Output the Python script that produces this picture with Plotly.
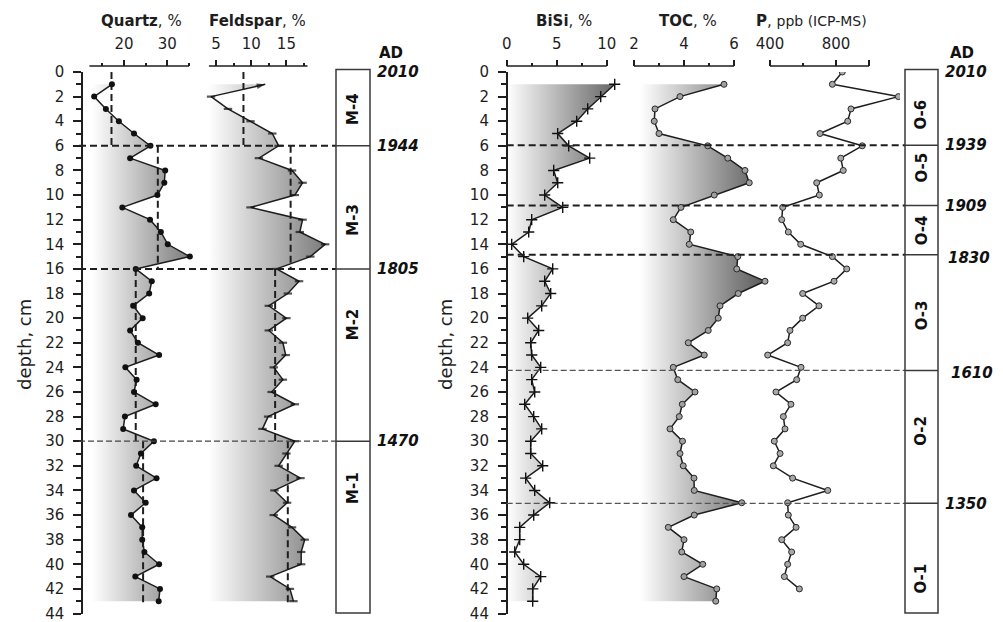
import plotly.graph_objects as go

W, H = 1003, 622
FONT = "DejaVu Sans"
INK = "#1e1e1e"

# ---------------- data ----------------
depth = list(range(1, 44))  # cm, samples of the mineral / BiSi / TOC series
p_depth = list(range(0, 43))

quartz = [17.2, 13.1, 15.8, 18.8, 22.3, 26.1, 21.4, 29.5, 29.3, 27.7,
          19.6, 26.0, 28.5, 30.1, 35.2, 22.7, 26.4, 25.8, 22.1, 24.3,
          21.4, 23.2, 28.1, 20.3, 22.9, 22.3, 27.3, 20.2, 19.8, 26.9,
          23.9, 22.8, 27.5, 22.3, 25.0, 21.6, 24.2, 24.2, 24.7, 28.1,
          22.6, 28.3, 28.0]
feldspar = [12.0, 4.3, 6.7, 9.9, 13.0, 13.9, 11.1, 15.8, 17.3, 16.2,
            9.9, 17.3, 16.9, 20.5, 18.4, 13.6, 16.8, 15.2, 12.5, 15.0,
            12.5, 14.5, 14.9, 13.2, 14.5, 12.9, 16.2, 12.4, 11.6, 16.2,
            15.0, 13.9, 17.0, 13.3, 15.1, 13.2, 15.8, 17.6, 17.1, 17.1,
            12.7, 15.5, 16.0]
bisi = [10.8, 9.4, 8.1, 7.0, 5.1, 6.2, 8.3, 4.7, 5.1, 3.8,
        5.6, 2.5, 2.2, 0.5, 1.7, 4.6, 3.8, 4.4, 3.5, 2.1,
        3.2, 2.4, 2.5, 3.4, 2.5, 2.8, 1.8, 2.7, 3.5, 2.4,
        2.4, 3.6, 1.9, 2.8, 4.3, 2.7, 1.3, 1.3, 0.8, 1.7,
        3.4, 2.6, 2.6]
toc = [5.60, 3.84, 2.84, 2.81, 3.00, 4.95, 5.75, 6.44, 6.61, 5.21,
       3.88, 3.57, 4.27, 4.21, 6.15, 6.11, 7.24, 6.17, 5.44, 5.37,
       4.97, 4.17, 4.81, 3.57, 3.75, 4.44, 3.93, 3.81, 3.44, 3.94,
       3.84, 3.97, 4.40, 4.41, 6.31, 4.41, 3.37, 4.00, 3.91, 4.75,
       4.00, 5.31, 5.27]
phos = [838, 778, 1178, 891, 871, 703, 959, 829, 844, 683,
        699, 477, 471, 511, 586, 778, 865, 788, 598, 697,
        598, 521, 507, 386, 588, 562, 436, 527, 481, 491,
        426, 461, 420, 537, 750, 507, 511, 558, 471, 531,
        507, 487, 578]

# zone means of the mineral series (top, bottom depth of each zone)
mean_spans = [(0, 6), (6, 16), (16, 30), (30, 43.3)]
quartz_means = [17.1, 27.8, 22.7, 24.4]
feldspar_means = [8.9, 15.6, 13.4, 15.2]

# zonation
m_zones = ["M-4", "M-3", "M-2", "M-1"]
m_bounds = [6, 16, 30]
m_label_depth = [3, 12, 20.5, 33.8]
m_dates = ["2010", "1944", "1805", "1470"]
m_date_depth = [0, 6, 16, 30]

o_zones = ["O-6", "O-5", "O-4", "O-3", "O-2", "O-1"]
o_bounds = [5.95, 10.85, 14.85, 24.25, 35.05]
o_label_depth = [3.5, 7.8, 12.9, 19.8, 29.2, 41.2]
o_dates = ["2010", "1939", "1909", "1830", "1610", "1350"]
o_date_depth = [0, 5.95, 10.85, 15.1, 24.45, 35.1]


# ---------------- helpers ----------------
def xp(px):
    return px / W


def yp(py):
    return 1 - py / H


Y_TOP, Y_BOT = 72, 613.5          # pixel rows of depth 0 and 44
AXIS_ROW = 66                     # row of the top value axes


def xrange_for(d0, d1, ref_px, ref_val, px_per_unit):
    return [ref_val + (d0 - ref_px) / px_per_unit,
            ref_val + (d1 - ref_px) / px_per_unit]


fig = go.Figure()

# value axes: domain px, reference (px, value), px per unit, ticks, minor ticks, axis line extent
axes = {
    "x":  dict(dom=(84, 200),  ref=(145.7, 25), k=4.33, ticks=[20, 30], minor=[15, 25, 35], line=(12, 35)),
    "x2": dict(dom=(200, 335), ref=(216, 5),    k=7.04, ticks=[5, 10, 15], minor=[7.5, 12.5, 17.5], line=(4, 18)),
    "x3": dict(dom=(505, 628), ref=(506.7, 0),  k=10.0, ticks=[0, 5, 10], minor=[2.5, 7.5], line=(0, 10)),
    "x4": dict(dom=(628, 775), ref=(634, 2),    k=25.0, ticks=[2, 4, 6], minor=[3, 5], line=(2, 6)),
    "x5": dict(dom=(760, 900), ref=(770, 400),  k=0.165, ticks=[400, 800, 1000], minor=[600], line=(400, 1000),
               text=["400", "800", ""]),
}

layout_axes = {}
shapes = []
for name, a in axes.items():
    key = "xaxis" if name == "x" else "xaxis" + name[1:]
    layout_axes[key] = dict(
        domain=[xp(a["dom"][0]), xp(a["dom"][1])],
        range=xrange_for(a["dom"][0], a["dom"][1], a["ref"][0], a["ref"][1], a["k"]),
        anchor="free", position=yp(AXIS_ROW), side="top",
        automargin=False,
        showline=False, showgrid=False, zeroline=False,
        ticks="outside", ticklen=6, tickwidth=1.5, tickcolor=INK,
        tickmode="array", tickvals=a["ticks"],
        ticktext=a.get("text", [str(v) for v in a["ticks"]]),
        ticklabelstandoff=5, ticklabeloverflow="allow",
        minor=dict(tickmode="array", tickvals=a["minor"], ticks="outside",
                   ticklen=3, tickwidth=1.5, tickcolor=INK, showgrid=False),
        tickfont=dict(family=FONT, size=15, color=INK),
        fixedrange=True,
    )
    shapes.append(dict(type="line", xref=name, yref="paper",
                       x0=a["line"][0], x1=a["line"][1],
                       y0=yp(AXIS_ROW), y1=yp(AXIS_ROW),
                       line=dict(color=INK, width=1.5)))

ydom = [yp(Y_BOT), yp(Y_TOP)]
ycommon = dict(domain=ydom, range=[44, 0], anchor="free", automargin=False,
               showline=True, linecolor=INK, linewidth=1.5,
               showgrid=False, zeroline=False,
               ticks="outside", ticklen=8, tickwidth=1.5, tickcolor=INK,
               tickmode="linear", tick0=0, dtick=2, ticklabelstandoff=6,
               ticklabeloverflow="allow",
               minor=dict(dtick=1, tick0=0, ticks="outside", ticklen=5,
                          tickwidth=1.5, tickcolor=INK, showgrid=False),
               tickfont=dict(family=FONT, size=15, color=INK),
               fixedrange=True)
layout_axes["yaxis"] = dict(ycommon, position=xp(82))
layout_axes["yaxis2"] = dict(ycommon, position=xp(506.7))


# ---------------- gradient fills ----------------
def gradient_fill(vals, depths, base, top_color, xa, ya):
    fig.add_trace(go.Scatter(
        x=[base] + vals + [base],
        y=[depths[0]] + depths + [depths[-1]],
        xaxis=xa, yaxis=ya, mode="none", fill="toself",
        fillgradient=dict(type="horizontal", start=base, stop=max(vals),
                          colorscale=[[0, "rgba(255,255,255,1)"], [1, top_color]]),
        hoverinfo="skip"))


gradient_fill(quartz, depth, 12.6, "#7c7c7c", "x", "y")
gradient_fill(feldspar, depth, 3.9, "#7c7c7c", "x2", "y")
gradient_fill(bisi, depth, 0.0, "#666666", "x3", "y2")
gradient_fill(toc, depth, 2.25, "#5a5a5a", "x4", "y2")


# ---------------- zone mean lines ----------------
def mean_trace(means, xa):
    xs, ys = [], []
    for m, (d0, d1) in zip(means, mean_spans):
        xs += [m, m, None]
        ys += [d0, d1, None]
    fig.add_trace(go.Scatter(x=xs, y=ys, xaxis=xa, yaxis="y", mode="lines",
                             line=dict(color=INK, width=2, dash="7px,4px"),
                             hoverinfo="skip"))


mean_trace(quartz_means, "x")
mean_trace(feldspar_means, "x2")

# ---------------- profiles ----------------
fig.add_trace(go.Scatter(x=quartz, y=depth, xaxis="x", yaxis="y", mode="lines+markers",
                         line=dict(color=INK, width=1.5),
                         marker=dict(symbol="circle", size=6, color="#111")))

fig.add_trace(go.Scatter(x=feldspar, y=depth, xaxis="x2", yaxis="y", mode="lines+markers",
                         line=dict(color=INK, width=1.5),
                         marker=dict(symbol="line-ew", size=[0] + [6] * (len(depth) - 1),
                                     line=dict(color="#111", width=2.2))))
# arrow head on the uppermost feldspar sample
fig.add_trace(go.Scatter(x=feldspar[1::-1], y=depth[1::-1], xaxis="x2", yaxis="y",
                         mode="markers",
                         marker=dict(symbol="arrow", size=[0, 9], angleref="previous",
                                     color="#111", line=dict(width=0)),
                         hoverinfo="skip"))

fig.add_trace(go.Scatter(x=bisi, y=depth, xaxis="x3", yaxis="y2", mode="lines+markers",
                         line=dict(color=INK, width=1.5),
                         marker=dict(symbol="cross-thin", size=8,
                                     line=dict(color="#111", width=1.4))))

fig.add_trace(go.Scatter(x=toc, y=depth, xaxis="x4", yaxis="y2", mode="lines+markers",
                         line=dict(color=INK, width=1.5),
                         marker=dict(symbol="circle", size=6, color="#a0a0a0",
                                     line=dict(color="#2a2a2a", width=1))))

fig.add_trace(go.Scatter(x=phos, y=p_depth, xaxis="x5", yaxis="y2", mode="lines+markers",
                         line=dict(color=INK, width=1.5),
                         marker=dict(symbol="circle", size=6, color="#a8a8a8",
                                     line=dict(color="#2a2a2a", width=1))))

# ---------------- zone boundaries & boxes ----------------
BOX_L = (336, 370)
BOX_R = (905, 938)
BOX_TOP, BOX_BOTTOM = 69.5, 613

for i, d in enumerate(m_bounds):
    heavy = i < 2
    shapes.append(dict(type="line", xref="paper", yref="y", x0=xp(79), x1=xp(BOX_L[0]),
                       y0=d, y1=d,
                       line=dict(color=INK if heavy else "#444", width=2 if heavy else 1.3,
                                 dash="7px,4px" if heavy else "6px,3px")))
for i, d in enumerate(o_bounds):
    heavy = i < 3
    shapes.append(dict(type="line", xref="paper", yref="y2", x0=xp(506.7), x1=xp(BOX_R[0]),
                       y0=d, y1=d,
                       line=dict(color=INK if heavy else "#555", width=2 if heavy else 1.3,
                                 dash="7px,4px" if heavy else "6px,3px")))

for (bx0, bx1), bounds, yref in ((BOX_L, m_bounds, "y"), (BOX_R, o_bounds, "y2")):
    shapes.append(dict(type="rect", xref="paper", yref="paper",
                       x0=xp(bx0), x1=xp(bx1), y0=yp(BOX_BOTTOM), y1=yp(BOX_TOP),
                       line=dict(color="#3a3a3a", width=1.5), fillcolor="rgba(0,0,0,0)"))
    for d in bounds:
        shapes.append(dict(type="line", xref="paper", yref=yref,
                           x0=xp(bx0), x1=xp(bx1), y0=d, y1=d,
                           line=dict(color="#3a3a3a", width=1.5)))

# ---------------- text ----------------
ann = []
title_font = dict(family=FONT, size=15, color=INK)
for txt, cx in (("<b>Quartz</b>, %", 141), ("<b>Feldspar</b>, %", 257),
                ("<b>BiSi</b>, %", 564), ("<b>TOC</b>, %", 688),
                ("<b>P</b>, <span style='font-size:14px'>ppb (ICP-MS)</span>", 811)):
    ann.append(dict(text=txt, x=xp(cx), y=yp(21), xref="paper", yref="paper",
                    showarrow=False, xanchor="center", yanchor="middle", font=title_font))

for cx in (24, 445):
    ann.append(dict(text="depth, cm", x=xp(cx), y=yp(345), xref="paper", yref="paper",
                    textangle=-90, showarrow=False, xanchor="center", yanchor="middle",
                    font=dict(family=FONT, size=18, color=INK)))

for cx in (391, 962):
    ann.append(dict(text="<b>AD</b>", x=xp(cx), y=yp(53), xref="paper", yref="paper",
                    showarrow=False, xanchor="center", yanchor="middle",
                    font=dict(family=FONT, size=15, color="#111")))

zone_font = dict(family=FONT, size=15, color="#111")
for z, d in zip(m_zones, m_label_depth):
    ann.append(dict(text="<b>%s</b>" % z, x=xp(sum(BOX_L) / 2), y=d, xref="paper", yref="y",
                    textangle=-90, showarrow=False, xanchor="center", yanchor="middle",
                    font=zone_font))
for z, d in zip(o_zones, o_label_depth):
    ann.append(dict(text="<b>%s</b>" % z, x=xp(sum(BOX_R) / 2), y=d, xref="paper", yref="y2",
                    textangle=-90, showarrow=False, xanchor="center", yanchor="middle",
                    font=zone_font))

date_font = dict(family=FONT, size=15, color="#111")
for t, d in zip(m_dates, m_date_depth):
    ann.append(dict(text="<b><i>%s</i></b>" % t, x=xp(375), y=d, xref="paper", yref="y",
                    showarrow=False, xanchor="left", yanchor="middle", font=date_font))
o_date_x = [943, 943, 943, 946, 949, 943]
for t, d, dx in zip(o_dates, o_date_depth, o_date_x):
    ann.append(dict(text="<b><i>%s</i></b>" % t, x=xp(dx), y=d, xref="paper", yref="y2",
                    showarrow=False, xanchor="left", yanchor="middle", font=date_font))

fig.update_layout(
    width=W, height=H, margin=dict(l=0, r=0, t=0, b=0),
    paper_bgcolor="white", plot_bgcolor="rgba(0,0,0,0)",
    showlegend=False, shapes=shapes, annotations=ann,
    font=dict(family=FONT, color=INK),
    **layout_axes,
)

fig.write_html("out.html")
